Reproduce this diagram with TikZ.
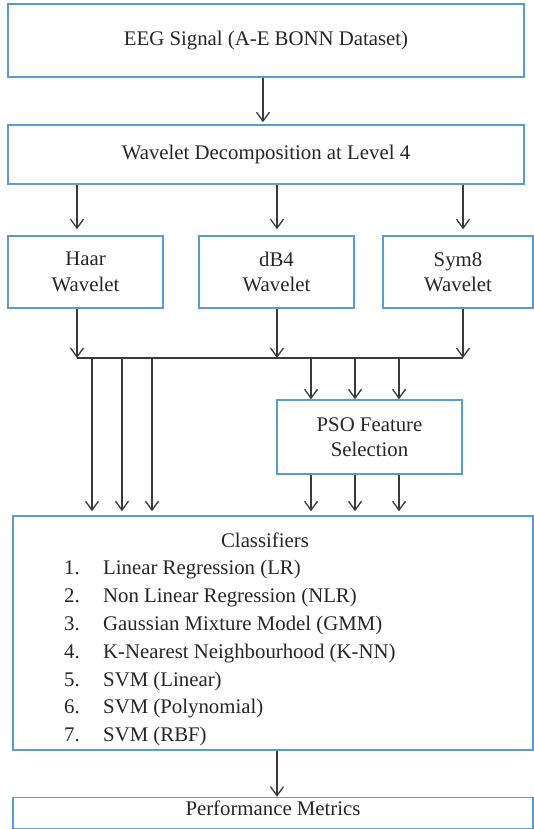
\documentclass[tikz,border=0pt]{standalone}
\usepackage{fontspec}
\setmainfont{Liberation Serif}
\usepackage{xcolor}
\usepackage{tikz}
\usetikzlibrary{arrows.meta}

\definecolor{boxblue}{RGB}{91,155,213}
\definecolor{linegray}{RGB}{58,58,58}

\begin{document}
\begin{tikzpicture}[x=1pt,y=-1pt]
	\tikzstyle{box}=[rectangle,draw=boxblue,line width=1.5pt,inner sep=0pt,align=center,text=black!85,font=\fontsize{20.8}{25.5}\selectfont]
	\tikzstyle{flow}=[color=linegray,line width=1.3pt,-{Straight Barb[length=9pt,width=13pt]}]
	\tikzstyle{item}=[inner sep=0pt,anchor=base west,text=black!85,font=\fontsize{20.8}{25.5}\selectfont]
	\useasboundingbox (0,0) rectangle (533,829);
	% columns of the connectors
	\coordinate (a0) at (263,0);
	\coordinate (c1) at (77,0);
	\coordinate (c2) at (277,0);
	\coordinate (c3) at (463,0);
	\coordinate (l1) at (92,0);
	\coordinate (l2) at (122,0);
	\coordinate (l3) at (152,0);
	\coordinate (r1) at (311,0);
	\coordinate (r2) at (355,0);
	\coordinate (r3) at (399,0);
	\coordinate (busL) at (77,358);
	\coordinate (busR) at (463,358);
	% boxes
	\node[box,minimum width=516pt,minimum height=73pt](sig) at (266,40.5) {EEG Signal (A-E BONN Dataset)};
	\node[box,minimum width=516pt,minimum height=59pt](dec) at (266,154.5) {Wavelet Decomposition at Level 4};
	\node[box,minimum width=155pt,minimum height=72pt](haar) at (85.5,272) {Haar\\Wavelet};
	\node[box,minimum width=155pt,minimum height=72pt](db4) at (276.5,272) {dB4\\Wavelet};
	\node[box,minimum width=150pt,minimum height=72pt](sym) at (458,272) {Sym8\\Wavelet};
	\node[box,minimum width=185pt,minimum height=74pt](pso) at (369.5,437) {PSO Feature\\Selection};
	\node[box,minimum width=520pt,minimum height=234pt](cls) at (273,633) {};
	\node[box,minimum width=520pt,minimum height=31pt,text depth=10pt](perf) at (273,813) {Performance Metrics};
	% list of classifiers
	\node[item,anchor=base](title) at (265,547) {Classifiers};
	\foreach \name [count=\i] in {{Linear Regression (LR)},{Non Linear Regression (NLR)},{Gaussian Mixture Model (GMM)},{K-Nearest Neighbourhood (K-NN)},{SVM (Linear)},{SVM (Polynomial)},{SVM (RBF)}}{
		\node[item](n\i) at (64,547+27.8*\i) {\i.};
		\node[item](t\i) at (103,547+27.8*\i) {\name};
	}
	% connectors
	\draw[draw=linegray,line width=1.3pt] (busL) -- (busR);
	\path[flow]
		(sig.south -| a0) edge[shorten >=2pt] (dec.north -| a0)
		(dec.south -| c1) edge[shorten >=6pt] (haar.north -| c1)
		(dec.south -| c2) edge[shorten >=6pt] (db4.north -| c2)
		(dec.south -| c3) edge[shorten >=6pt] (sym.north -| c3)
		(haar.south -| c1) edge (busL)
		(db4.south -| c2) edge (busL -| c2)
		(sym.south -| c3) edge (busR)
		(busL -| l1) edge[shorten >=4pt] (cls.north -| l1)
		(busL -| l2) edge[shorten >=4pt] (cls.north -| l2)
		(busL -| l3) edge[shorten >=4pt] (cls.north -| l3)
		(busL -| r1) edge (pso.north -| r1)
		(busL -| r2) edge (pso.north -| r2)
		(busL -| r3) edge (pso.north -| r3)
		(pso.south -| r1) edge[shorten >=4pt] (cls.north -| r1)
		(pso.south -| r2) edge[shorten >=4pt] (cls.north -| r2)
		(pso.south -| r3) edge[shorten >=4pt] (cls.north -| r3)
		(cls.south -| c2) edge (perf.north -| c2);
\end{tikzpicture}
\end{document}
